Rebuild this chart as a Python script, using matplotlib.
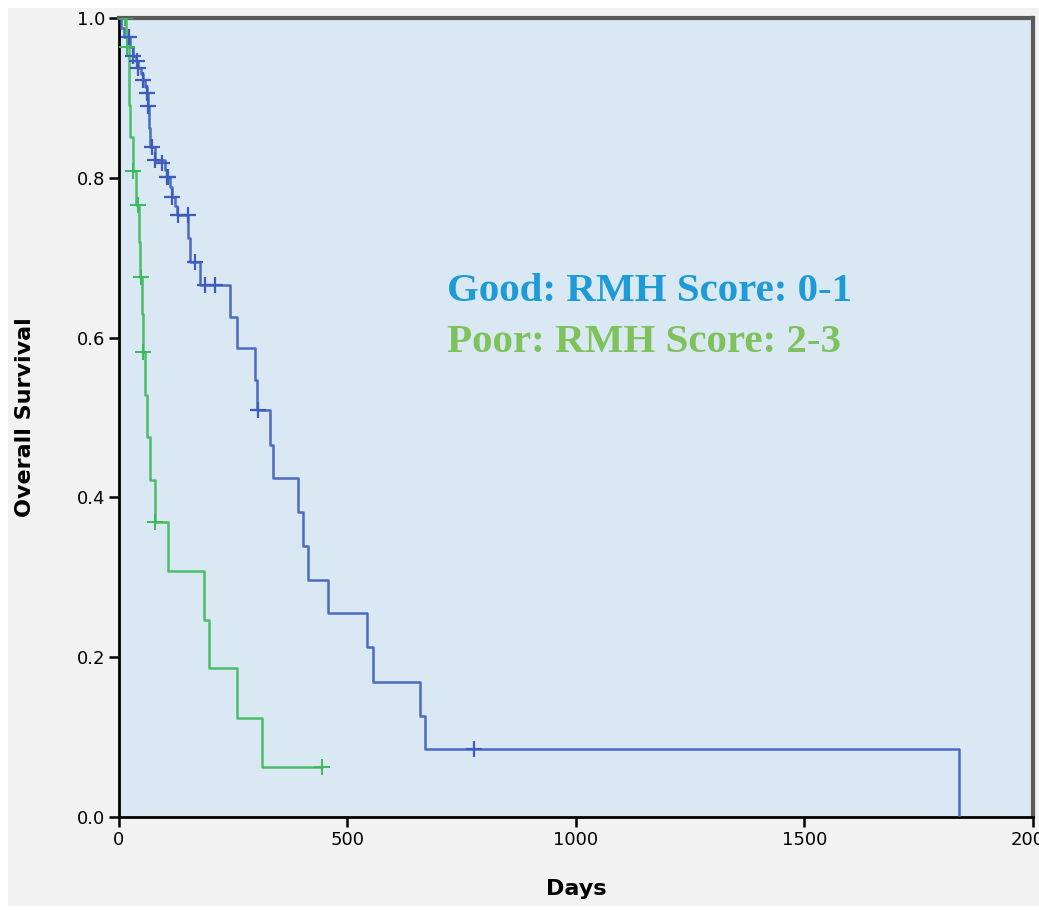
import numpy as np
import matplotlib
matplotlib.use("Agg")
import matplotlib.pyplot as plt
from matplotlib.patches import Rectangle

# ---------------------------------------------------------------
# Kaplan-Meier data (days, survival after step)
good_times = [5, 12, 25, 30, 38, 42, 48, 52, 58, 61, 63, 66, 68, 78, 100,
              105, 112, 116, 122, 128, 151, 155, 177, 243, 258, 298, 302,
              330, 337, 392, 403, 414, 457, 543, 556, 659, 670, 1838]
good_surv = [0.988, 0.976, 0.964, 0.952, 0.946, 0.938, 0.930, 0.922, 0.914,
             0.906, 0.890, 0.862, 0.838, 0.822, 0.810, 0.801, 0.788, 0.776,
             0.765, 0.753, 0.725, 0.695, 0.666, 0.626, 0.587, 0.547, 0.509,
             0.466, 0.424, 0.382, 0.339, 0.297, 0.255, 0.213, 0.169, 0.127,
             0.085, 0.0]
good_cens_t = [22, 31, 39, 42, 53, 61, 63, 72, 79, 94, 105, 107, 116, 129,
               151, 167, 188, 210, 304, 777]
good_cens_s = [0.976, 0.952, 0.946, 0.938, 0.922, 0.906, 0.890, 0.838, 0.822,
               0.818, 0.801, 0.801, 0.776, 0.753, 0.753, 0.695, 0.666, 0.666,
               0.509, 0.085]

poor_times = [16, 17, 22, 23, 25, 31, 37, 44, 46, 51, 52, 56, 61, 68, 79,
              107, 186, 197, 258, 313]
poor_surv = [0.982, 0.964, 0.927, 0.891, 0.851, 0.809, 0.766, 0.720, 0.676,
             0.629, 0.582, 0.528, 0.476, 0.422, 0.369, 0.308, 0.247, 0.186,
             0.124, 0.062]
poor_cens_t = [14, 18, 31, 42, 48, 53, 79, 444]
poor_cens_s = [1.0, 0.964, 0.809, 0.766, 0.676, 0.582, 0.369, 0.062]

x_ticks = [0, 500, 1000, 1500, 2000]
y_ticks = [0.0, 0.2, 0.4, 0.6, 0.8, 1.0]

labels = ["Good: RMH Score: 0-1", "Poor: RMH Score: 2-3"]

BLUE = "#3d5cbd"
GREEN = "#3cb95a"

###############################
# Figure and axes
fig = plt.figure(figsize=(10.39, 9.10), dpi=100, facecolor="#f2f2f2")
# thin white frame round the picture
fig.patches.append(Rectangle((0, 0), 0.008, 1, transform=fig.transFigure,
                             facecolor="white", edgecolor="none"))
fig.patches.append(Rectangle((0, 0.991), 1, 0.009, transform=fig.transFigure,
                             facecolor="white", edgecolor="none"))
fig.patches.append(Rectangle((0, 0), 1, 0.004, transform=fig.transFigure,
                             facecolor="white", edgecolor="none"))

ax = fig.add_axes([0.1145, 0.1022, 0.8797, 0.878])
ax.set_facecolor("#d9e8f2")


def km_curve(times, surv, cens_t):
    # build step arrays, extending to the last censored time if needed
    t = [0] + list(times)
    s = [1.0] + list(surv)
    if max(cens_t) > t[-1]:
        t.append(max(cens_t))
        s.append(s[-1])
    return t, s


t, s = km_curve(good_times, good_surv, good_cens_t)
ax.step(t, s, where="post", color=BLUE, lw=1.8, alpha=0.9, zorder=3)
ax.plot(good_cens_t, good_cens_s, ls="none", marker="+", ms=11, mew=1.6,
        color=BLUE, zorder=4)

t, s = km_curve(poor_times, poor_surv, poor_cens_t)
ax.step(t, s, where="post", color=GREEN, lw=1.8, alpha=0.9, zorder=3)
ax.plot(poor_cens_t, poor_cens_s, ls="none", marker="+", ms=11, mew=1.4,
        color=GREEN, zorder=4)

###############################
# Limits, ticks, spines
ax.set_xlim(0, 2000)
ax.set_ylim(0, 1.0)
ax.set_xticks(x_ticks)
ax.set_yticks(y_ticks)
ax.set_yticklabels(["%.1f" % v for v in y_ticks])
ax.tick_params(axis="both", direction="out", length=7, width=1.8,
               labelsize=13, colors="black", pad=3)
for side in ["left", "bottom"]:
    ax.spines[side].set_linewidth(2)
    ax.spines[side].set_color("black")
for side in ["top", "right"]:
    ax.spines[side].set_linewidth(3)
    ax.spines[side].set_color("#5a5a5a")

ax.set_xlabel("Days", fontsize=16, fontweight="bold", labelpad=22)
ax.set_ylabel("Overall Survival", fontsize=16, fontweight="bold", labelpad=30)

###############################
# Group labels
ax.text(718, 0.646, labels[0], color="#1e9bd7", fontsize=29.5,
        fontweight="bold", family="Liberation Serif", va="baseline")
ax.text(718, 0.582, labels[1], color="#7dc25a", fontsize=29.5,
        fontweight="bold", family="Liberation Serif", va="baseline")

fig.savefig("out.png", dpi=100, facecolor=fig.get_facecolor())
